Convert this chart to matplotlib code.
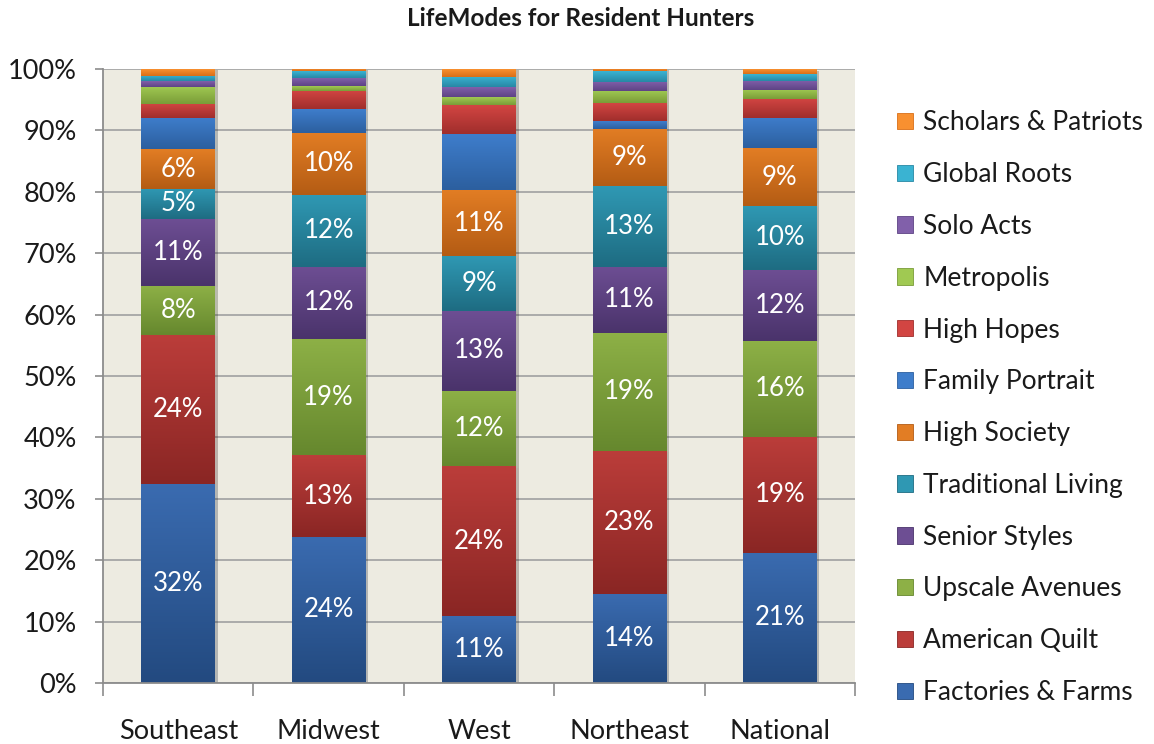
#!/usr/bin/env python3

import matplotlib
matplotlib.use("Agg")
import matplotlib.pyplot as plt
from matplotlib.colors import LinearSegmentedColormap
from matplotlib.patches import Patch
from matplotlib.ticker import FuncFormatter, FixedLocator
import matplotlib.patheffects as pe
import numpy as np

plt.rcParams['font.family'] = ['Lato', 'DejaVu Sans']

regions = ["Southeast", "Midwest", "West", "Northeast", "National"]

# shares (%) per LifeMode, bottom to top of each stack
factories_farms   = [32.4, 23.8, 10.9, 14.5, 21.2]
american_quilt    = [24.3, 13.3, 24.4, 23.3, 18.9]
upscale_avenues   = [ 8.0, 18.9, 12.3, 19.2, 15.6]
senior_styles     = [10.9, 11.8, 13.0, 10.8, 11.6]
traditional_liv   = [ 4.9, 11.7,  8.9, 13.1, 10.4]
high_society      = [ 6.4, 10.1, 10.8,  9.3,  9.4]
family_portrait   = [ 5.1,  3.8,  9.1,  1.3,  4.9]
high_hopes        = [ 2.3,  3.0,  4.7,  2.9,  3.1]
metropolis        = [ 2.8,  0.8,  1.3,  2.0,  1.5]
solo_acts         = [ 0.9,  1.3,  1.6,  1.5,  1.5]
global_roots      = [ 0.9,  1.1,  1.7,  1.7,  1.0]
scholars_patriots = [ 1.1,  0.4,  1.3,  0.4,  0.8]

series = [
  ("Factories & Farms",   factories_farms,   "#3A6BB0", "#234A80"),
  ("American Quilt",      american_quilt,    "#BB3D3A", "#8A2624"),
  ("Upscale Avenues",     upscale_avenues,   "#8DB046", "#66882E"),
  ("Senior Styles",       senior_styles,     "#6D4E93", "#4A336B"),
  ("Traditional Living",  traditional_liv,   "#2F98B3", "#1E6C82"),
  ("High Society",        high_society,      "#E27D24", "#B45C14"),
  ("Family Portrait",     family_portrait,   "#3E7DCB", "#2C5F9F"),
  ("High Hopes",          high_hopes,        "#D24542", "#A02E2C"),
  ("Metropolis",          metropolis,        "#A0C952", "#7A9C38"),
  ("Solo Acts",           solo_acts,         "#8160AA", "#5E4385"),
  ("Global Roots",        global_roots,      "#3AB3D2", "#2788A5"),
  ("Scholars & Patriots", scholars_patriots, "#F89030", "#D96F18"),
]
n_labeled = 6  # only the first six modes carry data labels

fig = plt.figure(figsize=(11.54, 7.44), dpi=100)
ax = fig.add_axes([0.0893, 0.0820, 0.6516, 0.8253])
ax.set_facecolor("#EDEBE1")

x = np.arange(len(regions))
width = 0.49
bottom = np.zeros(len(regions))
handles = []
for k, (name, vals, light, dark) in enumerate(series):
  vals = np.array(vals, dtype=float)
  bars = ax.bar(x, vals, width, bottom=bottom, color=dark, linewidth=0, zorder=2,
                path_effects=[pe.SimplePatchShadow(offset=(2, -1), alpha=0.25), pe.Normal()])
  cmap = LinearSegmentedColormap.from_list(name, [dark, light])
  grad = np.linspace(0, 1, 64).reshape(-1, 1)
  for b, v in zip(bars, vals):
    x0, y0 = b.get_x(), b.get_y()
    ax.imshow(grad, extent=[x0, x0 + b.get_width(), y0, y0 + b.get_height()],
              origin='lower', aspect='auto', cmap=cmap, zorder=2.5, interpolation='bilinear')
    if k < n_labeled:
      ax.text(x0 + b.get_width() / 2, y0 + b.get_height() / 2, "%d%%" % round(v),
              ha='center', va='center', color='white', fontsize=18.5, zorder=3)
  bottom += vals
  handles.append(Patch(facecolor=light, edgecolor=dark, linewidth=0.6, label=name))

ax.set_xlim(-0.5, len(regions) - 0.5)
ax.set_ylim(0, 100)
ax.set_yticks(np.arange(0, 101, 10))
ax.yaxis.set_major_formatter(FuncFormatter(lambda v, p: "%d%%" % v))
ax.yaxis.grid(True, color="#A6A6A6", linewidth=1.3, zorder=1)
ax.set_axisbelow(True)

ax.set_xticks(x)
ax.set_xticklabels(regions)
ax.xaxis.set_minor_locator(FixedLocator(np.arange(-0.5, len(regions), 1.0)))
ax.tick_params(axis='x', which='major', length=0, pad=26, labelsize=19.5, labelcolor="#1A1A1A")
ax.tick_params(axis='x', which='minor', length=9, width=1.2, color="#8C8C8C")
ax.tick_params(axis='y', length=6, width=1.2, color="#8C8C8C", labelsize=19.5,
               labelcolor="#1A1A1A", pad=13)

for s in ['top', 'right']:
  ax.spines[s].set_visible(False)
for s in ['left', 'bottom']:
  ax.spines[s].set_color("#8C8C8C")
  ax.spines[s].set_linewidth(1.3)

fig.text(0.503, 0.975, "LifeModes for Resident Hunters", ha='center', va='center',
         fontsize=17.5, fontweight='bold', color="#1A1A1A")

fig.legend(handles=handles[::-1], loc='center left', bbox_to_anchor=(0.757, 0.452),
           frameon=False, fontsize=19, handlelength=0.58, handleheight=0.58,
           handletextpad=0.4, labelspacing=1.015, labelcolor="#1A1A1A")

fig.savefig("out.png", dpi=100)
